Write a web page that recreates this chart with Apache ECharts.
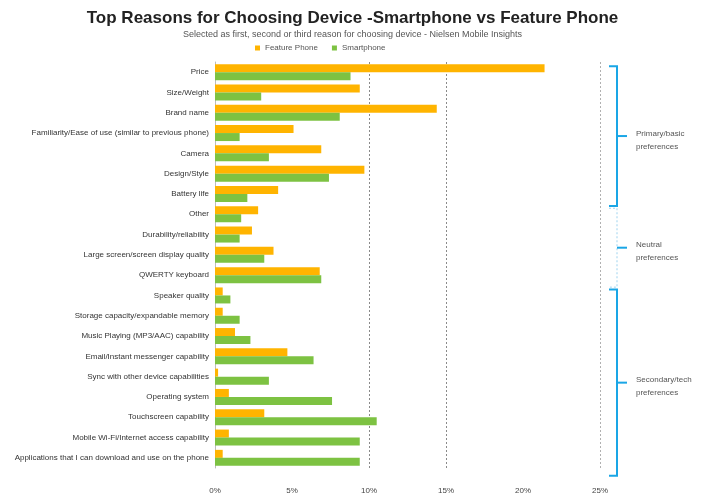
<!DOCTYPE html>
<html>
<head>
<meta charset="utf-8">
<script src="https://cdn.jsdelivr.net/npm/echarts@6/dist/echarts.min.js"></script>
<style>
html, body { margin: 0; padding: 0; background: #fff; }
#chart { width: 705px; height: 499px; }
</style>
</head>
<body>
<div id="chart"></div>
<script>
var reasons = [
    'Price', 'Size/Weight', 'Brand name', 'Familiarity/Ease of use (similar to previous phone)',
    'Camera', 'Design/Style', 'Battery life', 'Other', 'Durability/reliability',
    'Large screen/screen display quality', 'QWERTY keyboard', 'Speaker quality',
    'Storage capacity/expandable memory', 'Music Playing (MP3/AAC) capability',
    'Email/Instant messenger capability', 'Sync with other device capabilities',
    'Operating system', 'Touchscreen capability', 'Mobile Wi-Fi/Internet access capability',
    'Applications that I can download and use on the phone'
]
var featurePhone = [21.4, 9.4, 14.4, 5.1, 6.9, 9.7, 4.1, 2.8, 2.4, 3.8, 6.8, 0.5, 0.5, 1.3, 4.7, 0.2, 0.9, 3.2, 0.9, 0.5]
var smartphone = [8.8, 3.0, 8.1, 1.6, 3.5, 7.4, 2.1, 1.7, 1.6, 3.2, 6.9, 1.0, 1.6, 2.3, 6.4, 3.5, 7.6, 10.5, 9.4, 9.4]
var xTicks = [0, 5, 10, 15, 20, 25]
// bracket groups: first and last category index, label
var groups = [
    {from: 0, to: 6, label: ['Primary/basic', 'preferences'], dotted: false},
    {from: 7, to: 10, label: ['Neutral', 'preferences'], dotted: true},
    {from: 11, to: 19, label: ['Secondary/tech', 'preferences'], dotted: false}
]

var ORANGE = '#FFB400'
var GREEN = '#7DC242'
var BLUE = '#1AA6E6'
var font = "'Liberation Sans Narrow', 'Liberation Sans', sans-serif"

var myChart = echarts.init(document.getElementById('chart'), null, {renderer: 'canvas'})

myChart.setOption({
    animation: false,
    textStyle: {fontFamily: font},
    title: {
        text: 'Top Reasons for Choosing Device -Smartphone vs Feature Phone',
        subtext: 'Selected as first, second or third reason for choosing device - Nielsen Mobile Insights',
        left: 'center',
        top: 5,
        itemGap: 3,
        textStyle: {fontSize: 17, fontWeight: 'bold', color: '#222', fontFamily: font},
        subtextStyle: {fontSize: 9, color: '#555', fontFamily: font}
    },
    legend: {
        top: 39,
        left: 250,
        itemWidth: 5,
        itemHeight: 5,
        itemGap: 14,
        icon: 'rect',
        textStyle: {fontSize: 8, color: '#555', fontFamily: font},
        data: ['Feature Phone', 'Smartphone']
    },
    grid: {left: 215, right: 105, top: 62, bottom: 31},
    xAxis: {
        type: 'value',
        min: xTicks[0],
        max: xTicks[xTicks.length - 1],
        interval: 5,
        axisLine: {show: false},
        axisTick: {show: false},
        axisLabel: {fontSize: 8, color: '#444', formatter: '{value}%', margin: 19},
        splitLine: {
            show: true,
            lineStyle: {
                type: [2, 2],
                width: 1,
                color: ['rgba(0,0,0,0)', 'rgba(0,0,0,0)', '#8a8a8a', '#8a8a8a', 'rgba(0,0,0,0)', '#b0b0b0']
            }
        }
    },
    yAxis: {
        type: 'category',
        inverse: true,
        data: reasons,
        axisLine: {show: true, lineStyle: {color: '#bbb'}},
        axisTick: {show: false},
        axisLabel: {fontSize: 8, color: '#333', margin: 6}
    },
    series: [
        {
            name: 'Feature Phone',
            type: 'bar',
            data: featurePhone,
            barWidth: 8,
            barGap: '0%',
            itemStyle: {color: ORANGE}
        },
        {
            name: 'Smartphone',
            type: 'bar',
            data: smartphone,
            barWidth: 8,
            barGap: '0%',
            itemStyle: {color: GREEN}
        }
    ]
})

// braces on the right, placed from the category axis
function drawBrackets() {
    var elements = []
    var xLine = myChart.convertToPixel({xAxisIndex: 0}, 25) + 17
    groups.forEach(function (g, i) {
        var half = 10
        var y0 = myChart.convertToPixel({yAxisIndex: 0}, reasons[g.from]) - half + 4
        var y1 = myChart.convertToPixel({yAxisIndex: 0}, reasons[g.to]) + half + (i == groups.length - 1 ? 8 : 2)
        var ym = (y0 + y1) / 2
        var style = {stroke: BLUE, lineWidth: 2}
        if (g.dotted) style = {stroke: '#9fd3ef', lineWidth: 1, lineDash: [2, 2]}
        elements.push({
            type: 'polyline',
            shape: {points: [[xLine - 8, y0], [xLine, y0], [xLine, y1], [xLine - 8, y1]]},
            style: style,
            silent: true
        })
        elements.push({
            type: 'line',
            shape: {x1: xLine, y1: ym, x2: xLine + 10, y2: ym},
            style: {stroke: BLUE, lineWidth: 2},
            silent: true
        })
        elements.push({
            type: 'text',
            x: xLine + 19,
            y: ym - 9,
            style: {
                text: g.label.join('\n'),
                fontSize: 8,
                lineHeight: 13,
                fill: '#555',
                fontFamily: font
            },
            silent: true
        })
    })
    myChart.setOption({graphic: elements})
}
drawBrackets()
</script>
</body>
</html>
